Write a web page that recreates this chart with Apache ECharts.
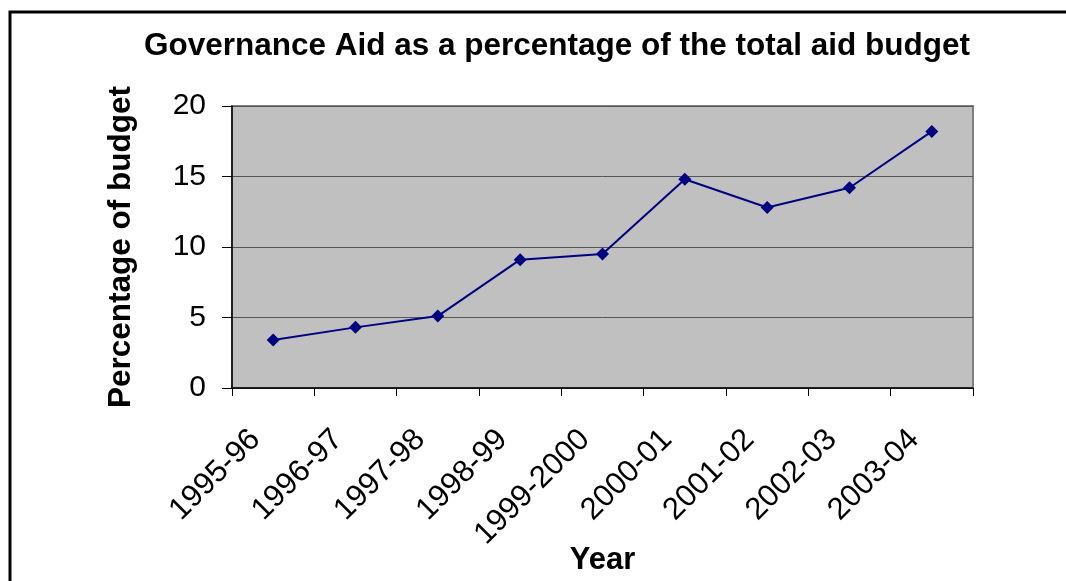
<!DOCTYPE html>
<html>
<head>
<meta charset="utf-8">
<script src="https://cdn.jsdelivr.net/npm/echarts@6/dist/echarts.min.js"></script>
<style>
html,body{margin:0;padding:0;background:#fff;}
#chart{width:1066px;height:581px;}
</style>
</head>
<body>
<div id="chart"></div>
<script>
const categories = ['1995-96','1996-97','1997-98','1998-99','1999-2000','2000-01','2001-02','2002-03','2003-04'];
const values = [3.4, 4.3, 5.1, 9.1, 9.5, 14.8, 12.8, 14.2, 18.2];
const yTicks = [0, 5, 10, 15, 20];

const chart = echarts.init(document.getElementById('chart'));
const FONT = '"Liberation Sans", Arial, sans-serif';
chart.setOption({
  animation: false,
  backgroundColor: '#ffffff',
  graphic: [{
    type: 'polyline',
    shape: { points: [[10, 600], [10, 12], [1080, 12]] },
    style: { stroke: '#000', lineWidth: 3, fill: null },
    silent: true
  }],
  title: {
    text: 'Governance Aid as a percentage of the total aid budget',
    left: 552, top: 25, textAlign: 'center',
    textStyle: { fontFamily: FONT, fontSize: 31.5, fontWeight: 'bold', color: '#000' }
  },
  grid: {
    left: 232, right: 93, top: 106, bottom: 193,
    containLabel: false,
    outerBoundsMode: 'none',
    show: true, backgroundColor: '#C0C0C0', borderColor: '#808080', borderWidth: 2
  },
  xAxis: {
    type: 'category',
    data: categories,
    boundaryGap: true,
    name: 'Year',
    nameLocation: 'middle',
    nameGap: 157,
    nameMoveOverlap: false,
    nameTextStyle: { fontFamily: FONT, fontSize: 31, fontWeight: 'bold', color: '#000' },
    axisLine: { lineStyle: { color: '#000', width: 1.5 } },
    axisTick: { show: true, length: 8, alignWithLabel: false, lineStyle: { color: '#000', width: 1 } },
    axisLabel: { rotate: 45, fontFamily: FONT, fontSize: 31, color: '#000', margin: 29, padding: [0, 25, 0, 0], interval: 0 },
    splitLine: { show: false }
  },
  yAxis: {
    type: 'value',
    min: 0, max: 20, interval: 5,
    name: 'Percentage of budget',
    nameLocation: 'middle',
    nameGap: 95,
    nameMoveOverlap: false,
    nameTextStyle: { fontFamily: FONT, fontSize: 31.5, fontWeight: 'bold', color: '#000' },
    axisLine: { show: true, lineStyle: { color: '#000', width: 1.5 } },
    axisTick: { show: true, length: 10, lineStyle: { color: '#000', width: 1 } },
    axisLabel: {
      fontFamily: FONT, fontSize: 30, color: '#000', margin: 26,
      formatter: function (v) { return yTicks.indexOf(v) >= 0 ? String(v) : ''; }
    },
    splitLine: { show: true, lineStyle: { color: '#555555', width: 1 } }
  },
  series: [{
    type: 'line',
    data: values,
    symbol: 'diamond',
    symbolSize: 13,
    lineStyle: { color: '#000080', width: 2 },
    itemStyle: { color: '#000080' }
  }]
});
</script>
</body>
</html>
